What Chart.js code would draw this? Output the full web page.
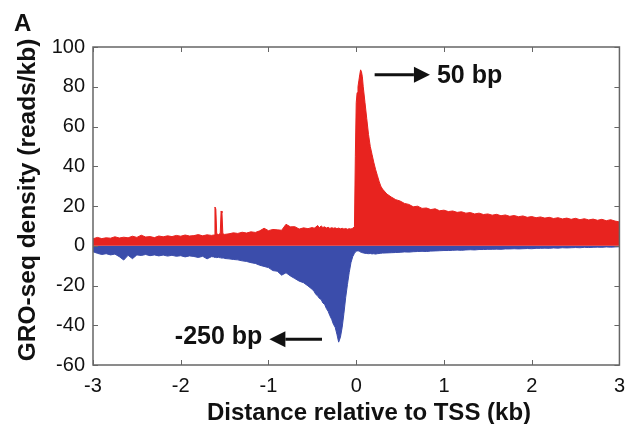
<!DOCTYPE html>
<html>
<head>
<meta charset="utf-8">
<script src="https://cdn.jsdelivr.net/npm/chart.js"></script>
<style>
  body { margin: 0; background: #fff; }
  canvas { display: block; }
</style>
</head>
<body>
<canvas id="groChart" width="634" height="424"></canvas>
<script>
// Distance from TSS (kb), sense and antisense GRO-seq density (reads/kb)
const distanceKb = [
    -3.00, -2.95, -2.90, -2.85, -2.80, -2.75, -2.70, -2.65, -2.60, -2.55, -2.50, -2.45, -2.40, -2.35, -2.30, -2.25, -2.20, -2.15, -2.10, -2.05, -2.00, -1.95, -1.90, -1.85, -1.80, -1.75, -1.70, -1.65,
    -1.62, -1.61, -1.60, -1.59, -1.57, -1.55, -1.54, -1.53, -1.52, -1.50,
    -1.45, -1.40, -1.35, -1.30, -1.25, -1.20, -1.15, -1.10, -1.05, -1.00, -0.95, -0.90, -0.85, -0.80, -0.75, -0.70, -0.65, -0.60, -0.55, -0.50,
    -0.48, -0.46, -0.44, -0.42, -0.40, -0.38, -0.36, -0.34, -0.32, -0.30, -0.28, -0.26, -0.24, -0.22, -0.20, -0.18, -0.16, -0.14, -0.12, -0.10, -0.08, -0.06, -0.04, -0.02,
    -0.01, 0.00, 0.01, 0.02, 0.03, 0.04, 0.05, 0.06, 0.07, 0.08,
    0.10, 0.12, 0.14, 0.16, 0.18, 0.20, 0.22, 0.24, 0.26, 0.28, 0.30,
    0.35, 0.40, 0.45, 0.50, 0.55, 0.60, 0.65, 0.70, 0.75, 0.80, 0.85, 0.90, 0.95, 1.00, 1.05, 1.10, 1.15, 1.20, 1.25, 1.30,
    1.35, 1.40, 1.45, 1.50, 1.55, 1.60, 1.65, 1.70, 1.75, 1.80, 1.85, 1.90, 1.95, 2.00, 2.05, 2.10, 2.15, 2.20, 2.25, 2.30,
    2.35, 2.40, 2.45, 2.50, 2.55, 2.60, 2.65, 2.70, 2.75, 2.80, 2.85, 2.90, 2.95, 3.00
];

const senseDensity = [
    3.5, 4.2, 3.6, 4.0, 3.8, 4.5, 3.9, 4.3, 4.0, 4.8, 4.2, 5.3, 4.4, 4.6, 4.1, 4.9, 4.5, 5.0, 4.6, 5.2, 4.8, 5.4, 4.9, 5.1, 5.6, 5.0, 5.5, 5.2,
    5.4, 19.5, 18.5, 6.0, 5.6, 6.2, 17.5, 16.5, 6.0, 5.7,
    6.0, 6.5, 6.2, 6.8, 6.4, 7.0, 6.7, 7.5, 8.8, 7.6, 8.2, 8.0, 7.8, 10.8, 9.5, 9.6, 8.4, 9.0, 8.6, 9.2,
    8.8, 9.4, 10.2, 9.0, 10.0, 9.2, 9.5, 8.9, 9.3, 8.7, 9.1, 8.8, 9.0, 8.6, 8.9, 8.5, 8.8, 8.4, 8.7, 8.3, 8.6, 8.4, 8.8, 9.5,
    45, 72, 77, 80, 83, 86, 88.5, 87.5, 85, 80,
    72, 64, 56, 50, 46, 42, 38.5, 35.5, 32.5, 30, 28.5,
    26, 24.5, 23.2, 22.5, 21.3, 20.8, 19.6, 19.9, 18.8, 19.0, 18.2, 18.6, 17.6, 17.9, 17.2, 17.5, 16.8, 17.1, 16.4, 16.7,
    16.0, 16.4, 15.7, 16.0, 15.4, 15.8, 15.1, 15.5, 14.8, 15.2, 14.6, 15.0, 14.3, 14.7, 14.1, 14.5, 13.9, 14.3, 13.7, 14.1,
    13.5, 13.9, 13.3, 13.8, 13.1, 13.6, 13.0, 13.4, 12.8, 13.3, 12.6, 13.1, 12.4, 12.0
];

const antisenseDensity = [
    -3.0, -3.8, -4.4, -4.0, -4.6, -4.2, -5.5, -7.2, -4.8, -6.5, -4.6, -4.9, -4.4, -5.0, -4.6, -5.1, -4.7, -5.2, -4.8, -5.3, -5.0, -5.6, -5.1, -5.4, -5.9, -5.3, -6.6, -5.5,
    -5.6, -5.9, -5.7, -6.0, -5.8, -6.1, -5.9, -6.3, -6.0, -6.4,
    -6.6, -6.9, -7.1, -7.6, -7.9, -8.5, -8.9, -9.8, -10.4, -11.0, -12.5, -12.8, -14.8, -13.6, -15.2, -16.5, -17.8, -18.6, -20.2, -22.0,
    -23.0, -24.5, -25.2, -26.5, -27.0, -28.8, -29.5, -31.6, -33.0, -35.2, -37.0, -39.5, -41.0, -44.5, -48.5, -46.0, -41.0, -34.0, -26.0, -19.5, -13.5, -8.5, -5.5, -3.8,
    -3.2, -2.8, -2.6, -2.5, -2.7, -2.9, -3.2, -3.4, -3.5, -3.6,
    -3.8, -3.9, -4.0, -3.9, -4.1, -4.0, -4.2, -4.0, -3.9, -3.8, -3.7,
    -3.6, -3.5, -3.4, -3.3, -3.1, -3.2, -3.0, -2.9, -2.8, -2.9, -2.7, -2.6, -2.5, -2.4, -2.4, -2.3, -2.2, -2.3, -2.1, -2.0,
    -2.1, -1.9, -1.9, -1.8, -1.8, -1.7, -1.8, -1.6, -1.6, -1.5, -1.6, -1.5, -1.4, -1.5, -1.3, -1.3, -1.2, -1.3, -1.1, -1.2,
    -1.0, -1.1, -1.0, -0.9, -1.0, -0.8, -0.9, -0.8, -0.7, -0.8, -0.6, -0.7, -0.6, -0.5
];

const FONT = "'Liberation Sans', Arial, Helvetica, sans-serif";
const RED = '#e8231f';
const BLUE = '#3b4dab';

// Build {x, y} points from the arrays
function toPoints(values) {
    return distanceKb.map((x, i) => ({ x, y: values[i] }));
}

// Arrow helper
function drawArrow(ctx, x1, y1, x2, y2) {
    const dir = Math.sign(x2 - x1);
    const headLen = 16;
    ctx.beginPath();
    ctx.moveTo(x1, y1);
    ctx.lineTo(x2 - dir * headLen, y2);
    ctx.stroke();
    ctx.beginPath();
    ctx.moveTo(x2, y2);
    ctx.lineTo(x2 - dir * headLen, y2 - 8);
    ctx.lineTo(x2 - dir * headLen, y2 + 8);
    ctx.closePath();
    ctx.fill();
}

// Box frame, inward ticks, titles and notes
const frameAndNotes = {
    id: 'frameAndNotes',
    afterDatasetsDraw(chart) {
        const { ctx, chartArea: a, scales: { x, y } } = chart;
        ctx.save();
        ctx.strokeStyle = '#666';
        ctx.lineWidth = 1.5;
        ctx.strokeRect(a.left, a.top, a.width, a.height);

        ctx.lineWidth = 1;
        ctx.beginPath();
        x.ticks.forEach(t => {
            const px = Math.round(x.getPixelForValue(t.value)) + 0.5;
            ctx.moveTo(px, a.bottom); ctx.lineTo(px, a.bottom - 5);
            ctx.moveTo(px, a.top); ctx.lineTo(px, a.top + 5);
        });
        y.ticks.forEach(t => {
            const py = Math.round(y.getPixelForValue(t.value)) + 0.5;
            ctx.moveTo(a.left, py); ctx.lineTo(a.left + 5, py);
            ctx.moveTo(a.right, py); ctx.lineTo(a.right - 5, py);
        });
        ctx.stroke();
        ctx.restore();
    },
    afterDraw(chart) {
        const { ctx, scales: { x, y } } = chart;
        ctx.save();
        ctx.fillStyle = '#111';
        ctx.strokeStyle = '#111';

        // panel label
        ctx.font = 'bold 24px ' + FONT;
        ctx.textAlign = 'left';
        ctx.textBaseline = 'alphabetic';
        ctx.fillText('A', 14, 31);

        // x title
        ctx.textAlign = 'center';
        ctx.fillText('Distance relative to TSS (kb)', 369, 420);

        // y title
        ctx.save();
        ctx.translate(35, 200);
        ctx.rotate(-Math.PI / 2);
        ctx.font = 'bold 24.5px ' + FONT;
        ctx.fillText('GRO-seq density (reads/kb)', 0, 0);
        ctx.restore();

        // 50 bp note
        ctx.lineWidth = 3;
        const y50 = y.getPixelForValue(86);
        drawArrow(ctx, x.getPixelForValue(0.21), y50, x.getPixelForValue(0.84), y50);
        ctx.font = 'bold 25px ' + FONT;
        ctx.textAlign = 'left';
        ctx.fillText('50 bp', x.getPixelForValue(0.92), y50 + 8);

        // -250 bp note
        const y250 = y.getPixelForValue(-47);
        drawArrow(ctx, x.getPixelForValue(-0.39), y250, x.getPixelForValue(-0.99), y250);
        ctx.textAlign = 'right';
        ctx.fillText('-250 bp', x.getPixelForValue(-1.07), y250 + 5);
        ctx.restore();
    }
};

new Chart(document.getElementById('groChart').getContext('2d'), {
    type: 'line',
    data: {
        datasets: [
            {
                label: 'sense',
                data: toPoints(senseDensity),
                borderColor: RED,
                backgroundColor: RED,
                borderWidth: 1,
                pointRadius: 0,
                tension: 0,
                fill: 'origin'
            },
            {
                label: 'antisense',
                data: toPoints(antisenseDensity),
                borderColor: BLUE,
                backgroundColor: BLUE,
                borderWidth: 1,
                pointRadius: 0,
                tension: 0,
                fill: 'origin'
            }
        ]
    },
    options: {
        responsive: false,
        animation: false,
        layout: { padding: { top: 47, right: 7, left: 0, bottom: 0 } },
        plugins: {
            legend: { display: false },
            tooltip: { enabled: false }
        },
        scales: {
            x: {
                type: 'linear',
                min: -3,
                max: 3,
                grid: { display: false, drawTicks: false },
                border: { display: false },
                ticks: {
                    stepSize: 1,
                    padding: 9,
                    color: '#111',
                    maxRotation: 0,
                    font: { family: FONT, size: 20 }
                },
                afterFit(scale) { scale.height = 59; }
            },
            y: {
                min: -60,
                max: 100,
                grid: { display: false, drawTicks: false },
                border: { display: false },
                ticks: {
                    stepSize: 20,
                    padding: 8,
                    color: '#111',
                    font: { family: FONT, size: 20 }
                },
                afterFit(scale) { scale.width = 93; }
            }
        }
    },
    plugins: [frameAndNotes]
});
</script>
</body>
</html>
